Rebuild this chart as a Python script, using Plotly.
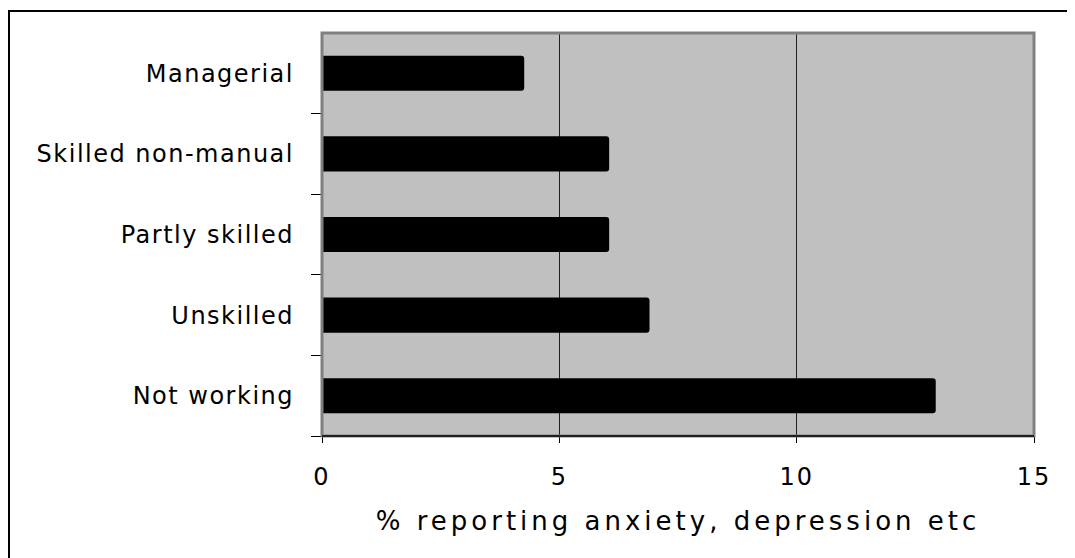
import plotly.graph_objects as go

categories = ["Managerial", "Skilled non-manual", "Partly skilled", "Unskilled", "Not working"]
values = [4.26, 6.05, 6.05, 6.9, 12.93]
x_ticks = [0, 5, 10, 15]
x_title = "% reporting anxiety, depression etc"

FONT = "DejaVu Sans"
FS = 24


def spaced(s, px):
    return f'<span style="letter-spacing:{px}px">{s}</span>'


W, H = 1075, 558
L, T = 314, 25
PW, PH = 712, 403
R = W - L - PW
B = H - T - PH

fig = go.Figure()
fig.add_trace(go.Bar(
    y=categories,
    x=values,
    orientation="h",
    width=0.435,
    marker=dict(color="black", line=dict(width=0), cornerradius=3),
    hoverinfo="x+y",
))

fig.update_layout(
    width=W,
    height=H,
    margin=dict(l=L, r=R, t=T, b=B, autoexpand=False),
    paper_bgcolor="white",
    plot_bgcolor="#C0C0C0",
    showlegend=False,
    font=dict(family=FONT, size=FS, color="black"),
    xaxis=dict(
        range=[0, 15],
        tickvals=x_ticks,
        ticktext=[spaced(str(v), 2) for v in x_ticks],
        showgrid=True,
        gridcolor="#202020",
        gridwidth=1,
        zeroline=False,
        showline=True,
        linecolor="black",
        linewidth=1,
        ticks="outside",
        ticklen=6,
        tickcolor="black",
        ticklabelstandoff=13,
        tickfont=dict(family=FONT, size=FS, color="black"),
        title=dict(text=spaced(x_title, 4), font=dict(family=FONT, size=26, color="black"), standoff=22),
        fixedrange=True,
        automargin=False,
    ),
    yaxis=dict(
        type="category",
        categoryorder="array",
        categoryarray=categories[::-1],
        tickvals=categories,
        ticktext=[spaced(c, 1.5) for c in categories],
        tickson="boundaries",
        ticks="outside",
        ticklen=10,
        tickcolor="black",
        showgrid=False,
        showline=False,
        zeroline=False,
        ticklabelstandoff=27,
        tickfont=dict(family=FONT, size=FS, color="black"),
        fixedrange=True,
        automargin=False,
    ),
    shapes=[
        dict(type="rect", xref="paper", yref="paper", x0=0, x1=1, y0=0, y1=1,
             line=dict(color="#808080", width=3), layer="above"),
        dict(type="line", xref="paper", yref="paper", x0=0, x1=1, y0=0, y1=0,
             line=dict(color="black", width=1.5), layer="above"),
        dict(type="rect", xref="paper", yref="paper",
             x0=(1 - L) / PW, x1=1.2, y0=-0.6, y1=1 + (T - 3) / PH,
             line=dict(color="black", width=2), layer="above"),
    ],
)

fig.write_html("out.html")
